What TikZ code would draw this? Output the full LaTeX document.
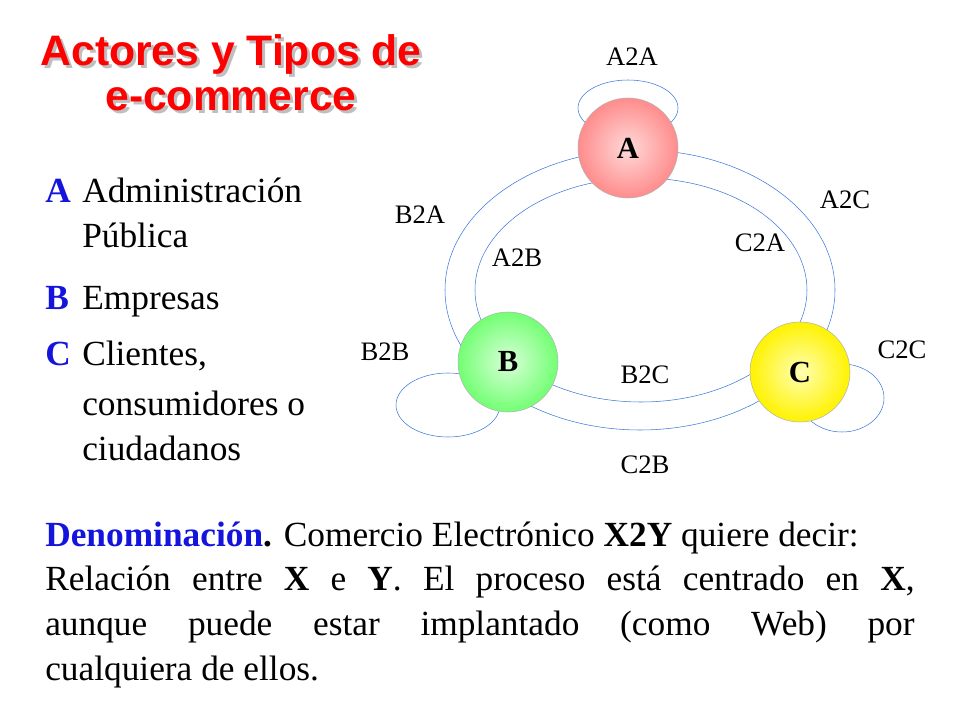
\documentclass[tikz,border=0pt]{standalone}
\usepackage{fontspec}
\setmainfont{Liberation Serif}
\newfontfamily\titlefont{Liberation Sans}
\usetikzlibrary{positioning}
\definecolor{linkblue}{RGB}{60,120,220}
\definecolor{letblue}{RGB}{20,20,220}
\begin{document}
\begin{tikzpicture}[x=0.75pt,y=-0.75pt,
        actor/.style={circle,minimum size=75pt,draw=gray!60,thin,shading=radial,font=\fontsize{23}{25}\selectfont\bfseries},
        link/.style={draw=linkblue,thin},
        tag/.style={font=\fontsize{20}{22}\selectfont},
        ttl/.style={font=\titlefont\fontsize{32}{35}\selectfont\bfseries,text=red},
        body/.style={font=\fontsize{26.5}{29}\selectfont,anchor=base west,inner sep=0pt},
        let/.style={body,text=letblue,font=\fontsize{26.5}{29}\selectfont\bfseries}]
        \useasboundingbox (0,0) rectangle (960,720);
        % Title
        \node[ttl,text=gray!50] at (234,57) {Actores y Tipos de};
        \node[ttl,text=gray!50] at (234,102) {e-commerce};
        \node[ttl] (t1) at (231,54) {Actores y Tipos de};
        \node[ttl] (t2) at (231,99) {e-commerce};
        % Links
        \draw[link] (640,290) ellipse [x radius=195,y radius=140];
        \draw[link] (641,290) ellipse [x radius=166,y radius=112];
        \draw[link] (628,108) ellipse [x radius=50,y radius=28];
        \draw[link] (448,405) ellipse [x radius=52,y radius=32];
        \draw[link] (842,398) ellipse [x radius=42,y radius=34];
        % Actors
        \node[actor,inner color=red!15,outer color=red!45] (a) at (628,148) {A};
        \node[actor,inner color=green!15,outer color=green!55] (b) at (508,362) {B};
        \node[actor,inner color=yellow!30,outer color=yellow!90!orange] (c) at (800,372) {C};
        % Labels
        \node[tag] (a2a) at (632,57) {A2A};
        \node[tag] (b2a) at (420,215) {B2A};
        \node[tag] (a2c) at (845,200) {A2C};
        \node[tag] (a2b) at (517,258) {A2B};
        \node[tag] (c2a) at (760,243) {C2A};
        \node[tag] (b2b) at (385,352) {B2B};
        \node[tag] (c2c) at (902,350) {C2C};
        \node[tag] (b2c) at (645,375) {B2C};
        \node[tag] (c2b) at (645,465) {C2B};
        % List
        \node[let] (la) at (45,203) {A};
        \node[body] (ta1) at (82,203) {Administración};
        \node[body] (ta2) at (82,248) {Pública};
        \node[let] (lb) at (45,310) {B};
        \node[body] (tb) at (82,310) {Empresas};
        \node[let] (lc) at (45,365) {C};
        \node[body] (tc1) at (82,365) {Clientes,};
        \node[body] (tc2) at (82,415) {consumidores o};
        \node[body] (tc3) at (82,460) {ciudadanos};
        % Bottom text
        \node[body] (den) at (45,546) {\textcolor{letblue}{\textbf{Denominación}}\textbf{.} Comercio Electrónico \textbf{X2Y} quiere decir:};
        \node[body,anchor=north west,text width=652pt,align=justify,
              font=\fontsize{26.5}{33.75}\selectfont] (par) at (45,566)
              {Relación entre \textbf{X} e \textbf{Y}. El proceso está centrado en \textbf{X},\linebreak aunque puede estar implantado (como Web) por\linebreak cualquiera de ellos.};
\end{tikzpicture}
\end{document}
